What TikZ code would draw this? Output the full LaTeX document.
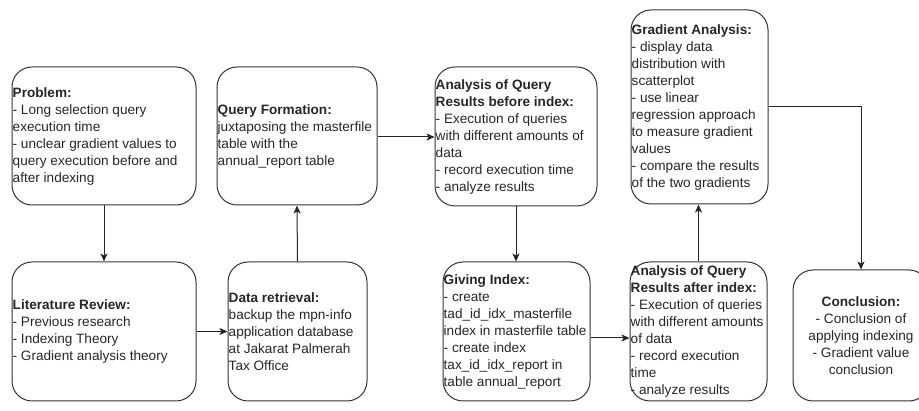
\documentclass[tikz,border=0pt]{standalone}
\usepackage{fontspec}
\setmainfont{Liberation Sans}
\usetikzlibrary{arrows.meta}
\begin{document}
\begin{tikzpicture}[x=1pt,y=-1pt,
  box/.style={draw=black!80, line width=1pt, rounded corners=20pt, inner sep=0pt},
  txt/.style={inner sep=1pt, align=left, anchor=west, text=black!85, font=\fontsize{13.6pt}{17pt}\selectfont},
  arr/.style={draw=black!85, line width=1pt, -{Stealth[length=8pt,width=7pt,inset=2pt]}}]
\clip (0,0) rectangle (919,411);
% boxes
\node[box, minimum width=184pt, minimum height=138pt] (prob) at (104,136) {};
\node[box, minimum width=184pt, minimum height=139pt] (lit) at (104,331.5) {};
\node[box, minimum width=139pt, minimum height=139pt] (data) at (297.5,331.5) {};
\node[box, minimum width=160pt, minimum height=138pt] (query) at (297,136) {};
\node[box, minimum width=162pt, minimum height=139pt] (before) at (516,136.5) {};
\node[box, minimum width=147pt, minimum height=139pt] (giving) at (516.5,331.5) {};
\node[box, minimum width=137pt, minimum height=139pt] (after) at (698.5,331.5) {};
\node[box, minimum width=137pt, minimum height=194pt] (grad) at (699.5,107) {};
\node[box, minimum width=136pt, minimum height=131pt] (con) at (861,335.5) {};
% texts
\node[txt] (probT) at (prob.west) {\textbf{Problem:}\\- Long selection query\\execution time\\- unclear gradient values to\\query execution before and\\after indexing};
\node[txt] (litT) at (lit.west) {\textbf{Literature Review:}\\- Previous research\\- Indexing Theory\\- Gradient analysis theory};
\node[txt] (dataT) at (data.west) {\textbf{Data retrieval:}\\backup the mpn-info\\application database\\at Jakarat Palmerah\\Tax Office};
\node[txt] (queryT) at (query.west) {\textbf{Query Formation:}\\juxtaposing the masterfile\\table with the\\annual\_report table};
\node[txt] (beforeT) at (before.west) {\textbf{Analysis of Query}\\\textbf{Results before index:}\\- Execution of queries\\with different amounts of\\data\\- record execution time\\- analyze results};
\node[txt] (givingT) at (giving.west) {\textbf{Giving Index:}\\- create\\tad\_id\_idx\_masterfile\\index in masterfile table\\- create index\\tax\_id\_idx\_report in\\table annual\_report};
\node[txt] (afterT) at (after.west) {\textbf{Analysis of Query}\\\textbf{Results after index:}\\- Execution of queries\\with different amounts\\of data\\- record execution\\time\\- analyze results};
\node[txt] (gradT) at (grad.west) {\textbf{Gradient Analysis:}\\- display data\\distribution with\\scatterplot\\- use linear\\regression approach\\to measure gradient\\values\\- compare the results\\of the two gradients};
\node[txt, anchor=center, align=center] (conT) at (con.center) {\textbf{Conclusion:}\\- Conclusion of\\applying indexing\\- Gradient value\\conclusion};
% connectors
\draw[arr] (prob.south) -- (lit.north);
\draw[arr] (lit.east) -- (data.west);
\draw[arr] (data.north) -- (query.south);
\draw[arr] ([yshift=-1pt]query.east) -- ([yshift=-1pt]query.east -| before.west);
\draw[arr] (before.south) -- (before.south |- giving.north);
\draw[arr] ([yshift=-6.5pt]giving.east) -- ([yshift=-6.5pt]giving.east -| after.west);
\draw[arr] (after.north) -- (after.north |- grad.south);
\draw[arr] (grad.east) -| (con.north);
\end{tikzpicture}
\end{document}
